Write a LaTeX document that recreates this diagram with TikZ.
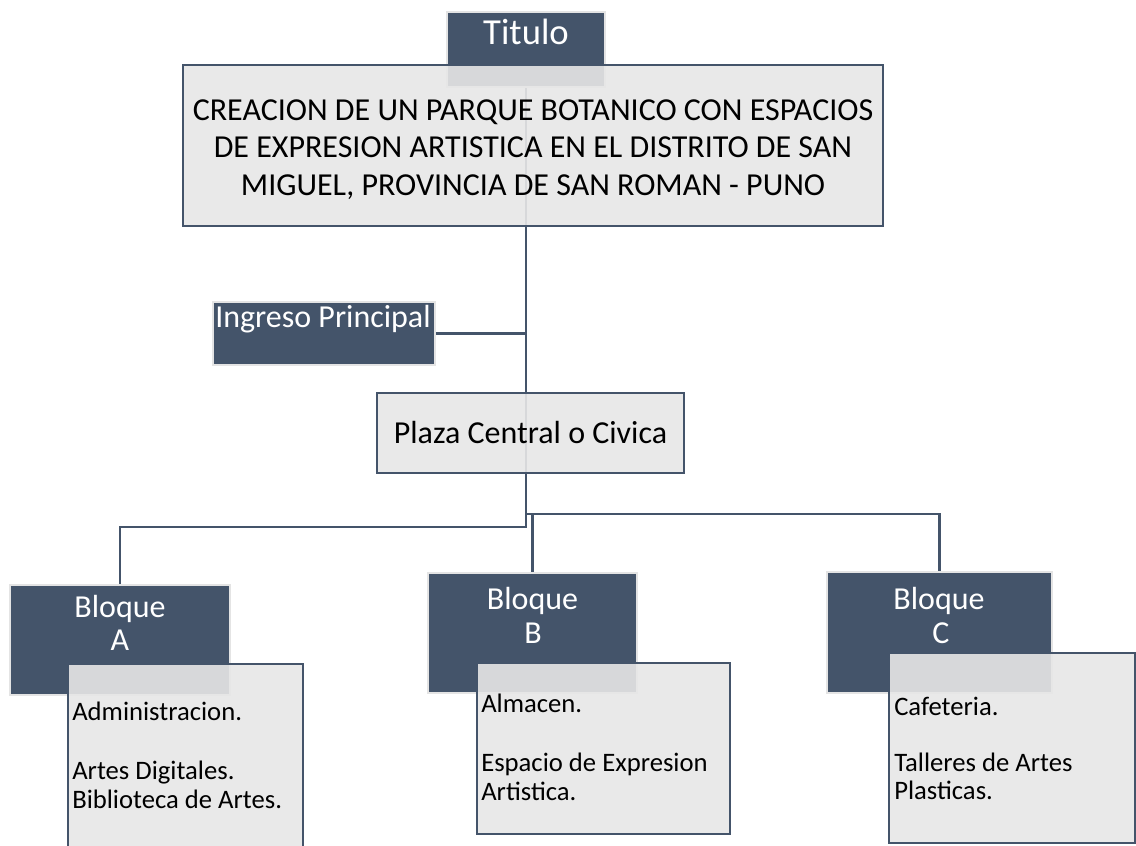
\documentclass[tikz,border=0pt]{standalone}
\usepackage{fontspec}
\setmainfont{Carlito}
\usetikzlibrary{fit,backgrounds}
\definecolor{dk}{HTML}{44546A}
\definecolor{lt}{HTML}{E7E7E7}
\definecolor{edgec}{HTML}{E4E4E4}
\begin{document}
\begin{tikzpicture}[x=0.75pt,y=-0.75pt,
  conn/.style={draw=dk, line width=2pt},
  darkbox/.style={fill=dk, draw=edgec, line width=1.5pt, inner sep=0pt},
  lightbox/.style={fill=lt, fill opacity=0.9, draw=dk, line width=1.6pt, inner sep=0pt},
  wtxt/.style={text=white, font=\fontsize{24}{28}\selectfont, inner sep=0pt, anchor=base},
  btxt/.style={text=black, font=\fontsize{24}{28}\selectfont, inner sep=0pt, anchor=base},
  itxt/.style={text=black, font=\fontsize{20}{24}\selectfont, inner sep=0pt, anchor=base west}]
\useasboundingbox (0,0) rectangle (1136,846);
\clip (0,0) rectangle (1136,846);
% title
\node[darkbox, fit={(447,12)(605,87)}] (tit) {};
\node[wtxt, font=\fontsize{27.5}{31}\selectfont] (titT) at (526,45) {Titulo};
\node[lightbox, fit={(183,65)(883,226)}] (main) {};
\node[btxt] (m1) at (533,120) {CREACION DE UN PARQUE BOTANICO CON ESPACIOS};
\node[btxt] (m2) at (533,157.5) {DE EXPRESION ARTISTICA EN EL DISTRITO DE SAN};
\node[btxt] (m3) at (533,195) {MIGUEL, PROVINCIA DE SAN ROMAN - PUNO};
% ingreso
\node[darkbox, fit={(213,302)(435,365)}] (ing) {};
\node[wtxt, anchor=base west] (ingT) at (215,327) {Ingreso Principal};
% plaza
\node[lightbox, fit={(377,393)(684,473)}] (plaza) {};
\node[btxt] (plazaT) at (530.5,443) {Plaza Central o Civica};
% bloque A
\node[darkbox, fit={(10,585)(230,695)}] (bA) {};
\node[wtxt] (bA1) at (120,617) {Bloque};
\node[wtxt] (bA2) at (120,650) {A};
\node[lightbox, fit={(68,664)(303,860)}] (lA) {};
\node[itxt] (lA1) at (72,720) {Administracion.};
\node[itxt] (lA2) at (72,779) {Artes Digitales.};
\node[itxt] (lA3) at (72,808) {Biblioteca de Artes.};
% bloque B
\node[darkbox, fit={(428,573)(637,693)}] (bB) {};
\node[wtxt] (bB1) at (532.5,609) {Bloque};
\node[wtxt] (bB2) at (533,643) {B};
\node[lightbox, fit={(477,663)(730,834)}] (lB) {};
\node[itxt] (lB1) at (481,712) {Almacen.};
\node[itxt] (lB2) at (481,771) {Espacio de Expresion};
\node[itxt] (lB3) at (481,800) {Artistica.};
% bloque C
\node[darkbox, fit={(827,572)(1052,693)}] (bC) {};
\node[wtxt] (bC1) at (939,609) {Bloque};
\node[wtxt] (bC2) at (941,643) {C};
\node[lightbox, fit={(889,653)(1135,843)}] (lC) {};
\node[itxt] (lC1) at (894,715) {Cafeteria.};
\node[itxt] (lC2) at (894,771) {Talleres de Artes};
\node[itxt] (lC3) at (894,799) {Plasticas.};
% connectors
\coordinate (ylev) at (0,514);
\coordinate (ylev2) at (0,527);
\coordinate (jtop) at (tit.south |- ylev);
\coordinate (jleft) at (tit.south |- ylev2);
\begin{scope}[on background layer]
\draw[conn] (tit.south) -- (jtop);
\draw[conn] (ing.east) -- (ing.east -| jtop);
\draw[conn] (jtop) -| (bC.north);
\draw[conn] (bB.north) -- (bB.north |- jtop);
\draw[conn] (jtop) -- (jleft) -| (bA.north);
\end{scope}
\end{tikzpicture}
\end{document}
